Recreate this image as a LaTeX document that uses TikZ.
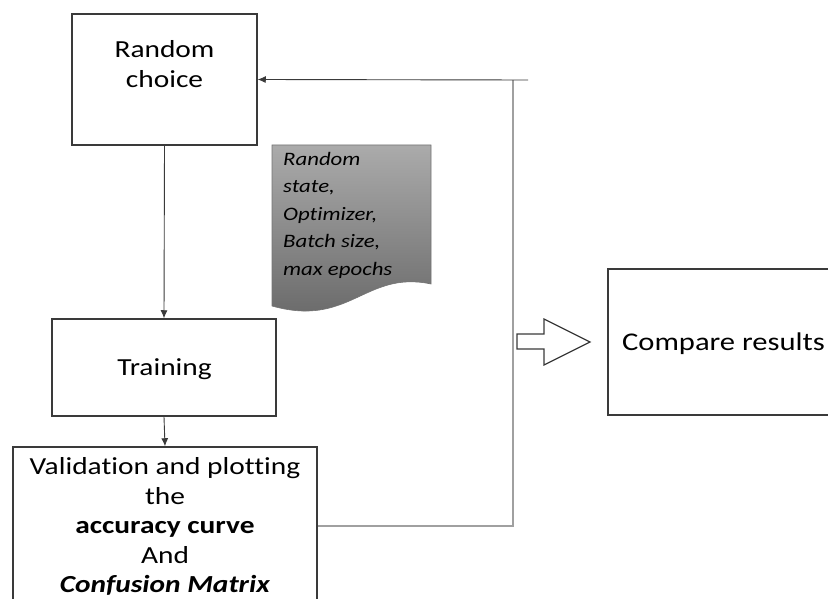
\documentclass[tikz,border=0pt]{standalone}
\usepackage{fontspec}
\setmainfont{Carlito}[FakeStretch=1.2,Ligatures=NoCommon]
\usetikzlibrary{arrows.meta}
\definecolor{edge}{HTML}{3A3A3A}
\definecolor{feed}{HTML}{A0A0A0}
\begin{document}
\begin{tikzpicture}[x=1pt,y=-1pt,
  box/.style={draw=edge,line width=1.5pt,fill=white,rectangle,inner sep=0pt},
  lbl/.style={align=center,font=\fontsize{24.5}{30}\selectfont,inner sep=0pt},
  conn/.style={draw=edge,line width=0.9pt,-{Latex[length=8pt,width=7pt]}}]
\useasboundingbox (0,0) rectangle (828,599);
\clip (0,0) rectangle (828,599);

% boxes
\node[box,minimum width=185pt,minimum height=131pt] (rc) at (164.5,79.5) {};
\node[lbl,anchor=base] (rct) at (164.5,88) {Random\\choice};
\node[box,minimum width=224pt,minimum height=97pt] (tr) at (164,367.5) {};
\node[lbl,anchor=base] (trt) at (164.5,375) {Training};
\node[box,minimum width=304pt,minimum height=163pt] (val) at (165,528.5) {};
\node[lbl,anchor=base,font=\fontsize{24.5}{29.5}\selectfont] (valt) at (165,592.5)
  {Validation and plotting\\the\\\textbf{accuracy curve}\\And\\\textbf{\textit{Confusion Matrix}}};
\node[box,minimum width=240pt,minimum height=146pt,anchor=north west] (cmp) at (607,268) {};
\node[lbl,font=\fontsize{25.5}{30}\selectfont,anchor=base] (cmpt) at (723.5,350) {Compare results};

% parameter document with wavy bottom
\shade[top color=black!33,bottom color=black!60,draw=black!55,line width=0.6pt]
  (272,145) -- (431,145) -- (431,284)
  .. controls (365,270) and (350,328) .. (272,306) -- cycle;
\node[anchor=base west,align=left,inner sep=0pt,
  font=\fontsize{19}{27.5}\selectfont\itshape] (doc) at (283,275)
  {Random\\state,\\Optimizer,\\Batch size,\\max epochs};

% flow connectors
\draw[conn] (rc.south) -- (tr.north);
\draw[conn] (tr.south) -- (val.north);

% feedback loop
\coordinate (low) at (513,526);
\coordinate (corner) at (513,80);
\coordinate (stub) at (528,80);
\draw[feed,line width=1.3pt] (val.east |- low) -- (low) -- (corner);
\draw[conn] (stub) -- (rc.east);

% block arrow towards the comparison
\draw[edge,line width=1.2pt,fill=white]
  (517,334) -- (544,334) -- (544,319) -- (590,342) -- (544,365)
  -- (544,349) -- (517,349) -- cycle;
\end{tikzpicture}
\end{document}
